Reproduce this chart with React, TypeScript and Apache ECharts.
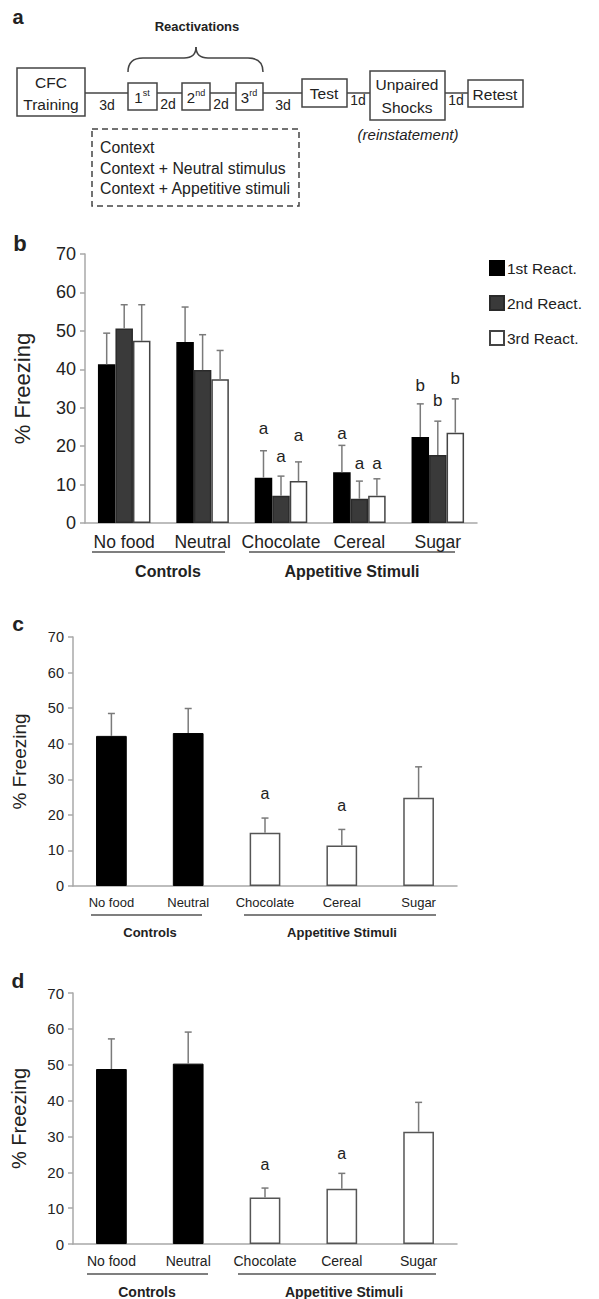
import React, { useEffect, useRef } from "react";
import * as echarts from "echarts";

const FONT = "'Liberation Sans', Arial, sans-serif";
const TXT = "#222";
const AXIS = "#a8a8a8";
const ERR = "#7a7a7a";

// ---------- data ----------
const categories = ["No food", "Neutral", "Chocolate", "Cereal", "Sugar"];
const yTicks = [0, 10, 20, 30, 40, 50, 60, 70];

// panel b
const bSeriesNames = ["1st React.", "2nd React.", "3rd React."];
const b1 = [41.3, 47.1, 11.8, 13.2, 22.4];
const b2 = [50.6, 39.8, 7.1, 6.3, 17.7];
const b3 = [47.4, 37.4, 10.9, 7.1, 23.5];
const b1Err = [49.4, 56.2, 18.8, 20.2, 31.0];
const b2Err = [56.8, 49.0, 12.2, 10.9, 26.5];
const b3Err = [56.8, 44.9, 15.9, 11.5, 32.3];
const b1Letter = ["", "", "a", "a", "b"];
const b2Letter = ["", "", "a", "a", "b"];
const b3Letter = ["", "", "a", "a", "b"];
const b1LetterY = [null, null, 24.7, 23.4, 35.9];
const b2LetterY = [null, null, 17.4, 15.6, 31.8];
const b3LetterY = [null, null, 22.7, 15.6, 37.5];

// panel c
const cValues = [42.2, 43.0, 15.0, 11.4, 24.8];
const cErr = [48.5, 49.9, 19.1, 15.9, 33.5];
const cLetter = ["", "", "a", "a", ""];
const cLetterY = [null, null, 26.1, 22.7, null];

// panel d
const dValues = [48.8, 50.3, 13.0, 15.4, 31.3];
const dErr = [57.2, 59.1, 15.6, 19.7, 39.5];
const dLetter = ["", "", "a", "a", ""];
const dLetterY = [null, null, 22.1, 25.1, null];

const controlCount = 2;

// ---------- helpers ----------
const B_GAP = 0.33;

function errSeries(axisIdx: number, vals: number[], errs: number[], k: number, n: number, gap: number) {
  return {
    type: "custom",
    xAxisIndex: axisIdx,
    yAxisIndex: axisIdx,
    z: 5,
    silent: true,
    data: vals.map((v, i) => [i, v, errs[i]]),
    renderItem: (params: any, api: any) => {
      const ci = api.value(0);
      const p0 = api.coord([ci, api.value(1)]);
      const p1 = api.coord([ci, api.value(2)]);
      const band = api.size([1, 0])[0];
      const bw = (band * (1 - gap)) / n;
      const x = p0[0] + (k - (n - 1) / 2) * bw;
      const st = { stroke: ERR, lineWidth: 1.5 };
      return {
        type: "group",
        children: [
          { type: "line", shape: { x1: x, y1: p0[1], x2: x, y2: p1[1] }, style: st },
          { type: "line", shape: { x1: x - 3.5, y1: p1[1], x2: x + 3.5, y2: p1[1] }, style: st },
        ],
      };
    },
  };
}

function letterSeries(axisIdx: number, letters: string[], ys: (number | null)[], k: number, n: number, gap: number, size: number) {
  const items: { value: number[]; letter: string }[] = [];
  letters.forEach((l, i) => {
    if (l && ys[i] != null) items.push({ value: [i, ys[i] as number], letter: l });
  });
  return {
    type: "custom",
    xAxisIndex: axisIdx,
    yAxisIndex: axisIdx,
    z: 6,
    silent: true,
    data: items.map((it) => it.value),
    renderItem: (params: any, api: any) => {
      const ci = api.value(0);
      const p = api.coord([ci, api.value(1)]);
      const band = api.size([1, 0])[0];
      const bw = (band * (1 - gap)) / n;
      const x = p[0] + (k - (n - 1) / 2) * bw;
      return {
        type: "text",
        x,
        y: p[1],
        style: {
          text: items[params.dataIndex].letter,
          textAlign: "center",
          textVerticalAlign: "middle",
          fill: TXT,
          font: `${size}px ${FONT}`,
        },
      };
    },
  };
}

function yAxisCfg(grid: number, labelSize: number, nameSize: number, nameGap: number) {
  return {
    type: "value",
    gridIndex: grid,
    min: yTicks[0],
    max: yTicks[yTicks.length - 1],
    interval: yTicks[1] - yTicks[0],
    name: "% Freezing",
    nameLocation: "middle",
    nameRotate: 90,
    nameGap,
    nameTextStyle: { fontFamily: FONT, fontSize: nameSize, color: TXT },
    axisLine: { show: true, lineStyle: { color: AXIS, width: 1.5 } },
    axisTick: { show: true, length: 5, lineStyle: { color: AXIS, width: 1.5 } },
    axisLabel: { fontFamily: FONT, fontSize: labelSize, color: TXT, margin: 9 },
    splitLine: { show: false },
  };
}

function xAxisCfg(grid: number, labelSize: number) {
  return {
    type: "category",
    gridIndex: grid,
    data: categories,
    axisLine: { show: true, lineStyle: { color: AXIS, width: 1.5 } },
    axisTick: { show: false },
    axisLabel: { fontFamily: FONT, fontSize: labelSize, color: TXT, margin: 10, interval: 0 },
  };
}

function singleBar(axisIdx: number, vals: number[]) {
  return {
    type: "bar",
    xAxisIndex: axisIdx,
    yAxisIndex: axisIdx,
    barWidth: "40%",
    data: vals.map((v, i) => ({
      value: v,
      itemStyle:
        i < controlCount
          ? { color: "#000", borderColor: "#000", borderWidth: 1 }
          : { color: "#fff", borderColor: "#555", borderWidth: 1.5 },
    })),
  };
}

function txt(text: string, x: number, y: number, size: number, opts: any = {}) {
  return {
    type: "text",
    x,
    y,
    style: {
      text,
      fill: TXT,
      font: `${opts.italic ? "italic " : ""}${opts.bold ? "bold " : ""}${size}px ${FONT}`,
      textAlign: opts.align || "center",
      textVerticalAlign: "middle",
    },
  };
}

function hline(x1: number, x2: number, y: number, color = "#555", w = 1.5) {
  return { type: "line", shape: { x1, y1: y, x2, y2: y }, style: { stroke: color, lineWidth: w } };
}

function box(x: number, y: number, w: number, h: number) {
  return { type: "rect", shape: { x, y, width: w, height: h }, style: { fill: "#fff", stroke: "#444", lineWidth: 1.5 } };
}

function sup(main: string, s: string, x: number, y: number) {
  return {
    type: "text",
    x,
    y,
    style: {
      text: `{m|${main}}{s|${s}}`,
      textAlign: "center",
      textVerticalAlign: "middle",
      rich: {
        m: { fontFamily: FONT, fontSize: 15, fill: TXT, color: TXT },
        s: { fontFamily: FONT, fontSize: 9, fill: TXT, color: TXT, verticalAlign: "top", padding: [0, 0, 8, 0] },
      },
    },
  };
}

const curve = (x1: number, y1: number, cx: number, cy: number, x2: number, y2: number) => ({
  type: "bezierCurve",
  shape: { x1, y1, x2, y2, cpx1: cx, cpy1: cy },
  style: { stroke: "#444", lineWidth: 1.5, fill: "none" },
});

export default function App() {
  const ref = useRef<HTMLDivElement>(null);
  useEffect(() => {
    if (!ref.current) return;
    const chart = echarts.init(ref.current, undefined, { renderer: "svg" });

    const bVals = [b1, b2, b3];
    const bErrs = [b1Err, b2Err, b3Err];
    const bLet = [b1Letter, b2Letter, b3Letter];
    const bLetY = [b1LetterY, b2LetterY, b3LetterY];
    const bFill = ["#000", "#3a3a3a", "#fff"];
    const bBorder = ["#000", "#2a2a2a", "#444"];

    const series: any[] = [];
    bVals.forEach((vals, k) => {
      series.push({
        type: "bar",
        name: bSeriesNames[k],
        xAxisIndex: 0,
        yAxisIndex: 0,
        barGap: "0%",
        barCategoryGap: `${B_GAP * 100}%`,
        itemStyle: { color: bFill[k], borderColor: bBorder[k], borderWidth: 1.5 },
        data: vals,
      });
    });
    bVals.forEach((vals, k) => series.push(errSeries(0, vals, bErrs[k], k, 3, B_GAP)));
    bLet.forEach((l, k) => series.push(letterSeries(0, l, bLetY[k], k, 3, B_GAP, 17)));

    series.push(singleBar(1, cValues));
    series.push(errSeries(1, cValues, cErr, 0, 1, 0.6));
    series.push(letterSeries(1, cLetter, cLetterY, 0, 1, 0.6, 16));

    series.push(singleBar(2, dValues));
    series.push(errSeries(2, dValues, dErr, 0, 1, 0.6));
    series.push(letterSeries(2, dLetter, dLetterY, 0, 1, 0.6, 16));

    const graphic: any[] = [
      // panel labels
      txt("a", 18, 17, 20, { bold: true }),
      txt("b", 20, 243, 22, { bold: true }),
      txt("c", 18, 623, 21, { bold: true }),
      txt("d", 18, 980, 21, { bold: true }),

      // panel a timeline
      hline(85, 468, 93, "#444", 1.5),
      txt("Reactivations", 197, 26, 13, { bold: true }),
      curve(128, 72, 128, 58, 143, 58),
      hline(143, 184, 58, "#444", 1.5),
      curve(184, 58, 196, 58, 196, 47),
      curve(196, 47, 196, 58, 208, 58),
      hline(208, 248, 58, "#444", 1.5),
      curve(248, 58, 263, 58, 263, 72),

      box(17, 68, 68, 48),
      txt("CFC", 51, 82, 15.5),
      txt("Training", 51, 104, 15.5),
      txt("3d", 107, 105, 14),
      box(128, 83, 29, 27),
      sup("1", "st", 142, 97),
      txt("2d", 168, 104, 14),
      box(182, 83, 28, 27),
      sup("2", "nd", 196, 97),
      txt("2d", 221, 104, 14),
      box(236, 83, 27, 27),
      sup("3", "rd", 249, 97),
      txt("3d", 283, 105, 14),
      box(302, 79, 45, 28),
      txt("Test", 324, 93, 15.5),
      txt("1d", 358, 100, 14),
      box(370, 71, 75, 49),
      txt("Unpaired", 407, 84, 15.5),
      txt("Shocks", 407, 107, 15.5),
      txt("(reinstatement)", 408, 134, 15, { italic: true }),
      txt("1d", 456, 100, 14),
      box(468, 80, 55, 27),
      txt("Retest", 495, 94, 15.5),

      { type: "rect", shape: { x: 92, y: 129, width: 207, height: 77 }, style: { fill: "none", stroke: "#444", lineWidth: 1.5, lineDash: [6, 4] } },
      txt("Context", 100, 147, 15.8, { align: "left" }),
      txt("Context + Neutral stimulus", 100, 168, 15.8, { align: "left" }),
      txt("Context + Appetitive stimuli", 100, 188, 15.8, { align: "left" }),

      // group brackets b
      hline(92, 225, 552),
      hline(249, 455, 552),
      txt("Controls", 168, 571, 16, { bold: true }),
      txt("Appetitive Stimuli", 352, 571, 16, { bold: true }),
      // c
      hline(91, 202, 915),
      hline(244, 436, 915),
      txt("Controls", 150, 932, 13, { bold: true }),
      txt("Appetitive Stimuli", 342, 932, 13, { bold: true }),
      // d
      hline(87, 208, 1274),
      hline(238, 436, 1274),
      txt("Controls", 147, 1292, 14, { bold: true }),
      txt("Appetitive Stimuli", 344, 1292, 14, { bold: true }),
    ];

    chart.setOption({
      animation: false,
      backgroundColor: "#fff",
      textStyle: { fontFamily: FONT },
      grid: [
        { left: 85, top: 254, width: 392, height: 269 },
        { left: 73, top: 637, width: 384, height: 249 },
        { left: 73, top: 993, width: 384, height: 251 },
      ],
      legend: {
        data: bSeriesNames,
        orient: "vertical",
        left: 489,
        top: 260,
        padding: 0,
        itemWidth: 14,
        itemHeight: 14,
        itemGap: 19,
        icon: "rect",
        textStyle: { fontFamily: FONT, fontSize: 15.5, color: TXT, padding: [0, 0, 0, -2] },
      },
      xAxis: [xAxisCfg(0, 17.5), xAxisCfg(1, 13), xAxisCfg(2, 14)],
      yAxis: [yAxisCfg(0, 18, 22, 52), yAxisCfg(1, 14.5, 19, 44), yAxisCfg(2, 15, 20, 44)],
      series,
      graphic,
    });
    return () => chart.dispose();
  }, []);
  return <div ref={ref} style={{ position: "absolute", left: 0, top: 0, width: 599, height: 1299 }} />;
}
